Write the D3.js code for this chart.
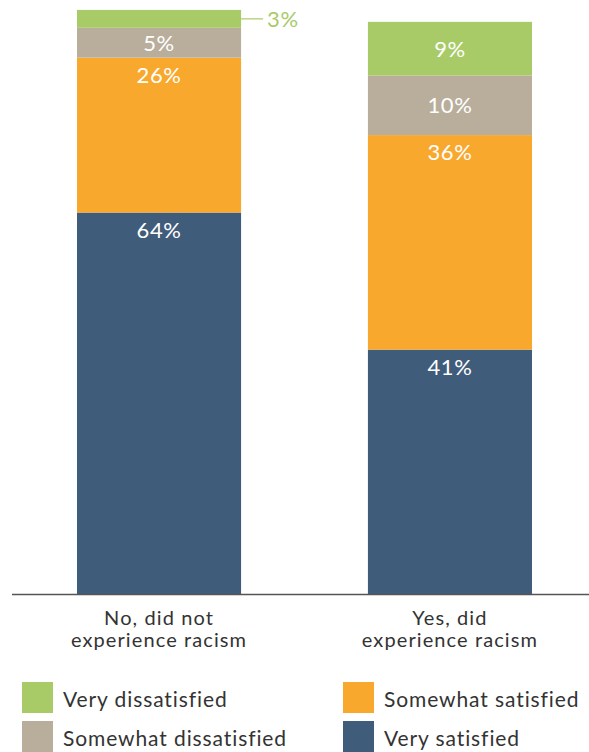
<!DOCTYPE html>
<html>
<head>
<meta charset="utf-8">
<script src="https://cdn.jsdelivr.net/npm/d3@7"></script>
<style>
  html, body { margin: 0; padding: 0; background: #fff; }
  svg { display: block; font-family: Lato, "Open Sans", sans-serif; }
</style>
</head>
<body>
<svg id="chart" width="589" height="752"></svg>
<script>
// Satisfaction by experience of racism (stacked percentages, bottom to top)
const categories = ["No, did not experience racism", "Yes, did experience racism"];
const categoryLines = [["No, did not", "experience racism"], ["Yes, did", "experience racism"]];
const seriesNames = ["Very satisfied", "Somewhat satisfied", "Somewhat dissatisfied", "Very dissatisfied"];
const verySatisfied = [64, 41];
const somewhatSatisfied = [26, 36];
const somewhatDissatisfied = [5, 10];
const veryDissatisfied = [3, 9];
const seriesColors = ["#3f5c7a", "#f9a82e", "#b9ae9c", "#a8cb67"];

const rows = categories.map((c, i) => ({
  category: c,
  "Very satisfied": verySatisfied[i],
  "Somewhat satisfied": somewhatSatisfied[i],
  "Somewhat dissatisfied": somewhatDissatisfied[i],
  "Very dissatisfied": veryDissatisfied[i]
}));

const svg = d3.select("#chart");
const baseline = 594;

const x = d3.scaleBand().domain(categories).range([77, 532]).paddingInner(0.436).paddingOuter(0);
const y = d3.scaleLinear().domain([0, 100]).range([baseline, baseline - 596]);
const color = d3.scaleOrdinal().domain(seriesNames).range(seriesColors);

const stacked = d3.stack().keys(seriesNames)(rows);

const layers = svg.append("g").selectAll("g.layer")
  .data(stacked).join("g")
  .attr("class", "layer")
  .attr("fill", d => color(d.key));

layers.selectAll("rect")
  .data(d => d.map(p => ({ key: d.key, p })))
  .join("rect")
  .attr("x", d => x(d.p.data.category))
  .attr("width", x.bandwidth())
  .attr("y", d => y(d.p[1]))
  .attr("height", d => y(d.p[0]) - y(d.p[1]));

// value labels
const labelData = [];
stacked.forEach(layer => {
  layer.forEach(p => {
    labelData.push({ key: layer.key, p, v: p[1] - p[0] });
  });
});

const segH = d => y(d.p[0]) - y(d.p[1]);
const inside = labelData.filter(d => segH(d) >= 25);
const outside = labelData.filter(d => segH(d) < 25);

svg.append("g").selectAll("text")
  .data(inside).join("text")
  .attr("x", d => x(d.p.data.category) + x.bandwidth() / 2)
  .attr("y", d => {
    const top = y(d.p[1]), h = segH(d);
    const cy = h < 70 ? top + h / 2 : top + 17;
    return cy + 8;
  })
  .attr("text-anchor", "middle")
  .attr("fill", "#fff")
  .attr("font-size", 22)
  .attr("letter-spacing", 0.6)
  .text(d => d.v + "%");

// small segments get a leader line and an outside label
const out = svg.append("g").selectAll("g")
  .data(outside).join("g");
out.append("line")
  .attr("x1", d => x(d.p.data.category) + x.bandwidth())
  .attr("x2", d => x(d.p.data.category) + x.bandwidth() + 22)
  .attr("y1", d => (y(d.p[0]) + y(d.p[1])) / 2)
  .attr("y2", d => (y(d.p[0]) + y(d.p[1])) / 2)
  .attr("stroke", d => color(d.key))
  .attr("stroke-width", 1.2);
out.append("text")
  .attr("x", d => x(d.p.data.category) + x.bandwidth() + 26)
  .attr("y", d => (y(d.p[0]) + y(d.p[1])) / 2 + 8)
  .attr("fill", d => color(d.key))
  .attr("font-size", 22)
  .attr("letter-spacing", 0.6)
  .text(d => d.v + "%");

// baseline axis
svg.append("line")
  .attr("x1", 12).attr("x2", 589)
  .attr("y1", baseline + 0.5).attr("y2", baseline + 0.5)
  .attr("stroke", "#555").attr("stroke-width", 1.5);

// category labels, two lines each
const catG = svg.append("g").selectAll("text")
  .data(categories).join("text")
  .attr("text-anchor", "middle")
  .attr("fill", "#333")
  .attr("font-size", 20)
  .attr("letter-spacing", 1.1);
catG.selectAll("tspan")
  .data((d, i) => categoryLines[i].map(t => ({ t, c: d })))
  .join("tspan")
  .attr("x", d => x(d.c) + x.bandwidth() / 2)
  .attr("y", (d, j) => 625 + j * 22)
  .text(d => d.t);

// legend
const legendOrder = ["Very dissatisfied", "Somewhat dissatisfied", "Somewhat satisfied", "Very satisfied"];
const legend = svg.append("g").selectAll("g")
  .data(legendOrder).join("g")
  .attr("transform", (d, i) => `translate(${i < 2 ? 22 : 343},${i % 2 === 0 ? 682 : 721})`);
legend.append("rect")
  .attr("width", 31).attr("height", 31)
  .attr("fill", d => color(d));
legend.append("text")
  .attr("x", 41).attr("y", 25)
  .attr("fill", "#333")
  .attr("font-size", 21)
  .attr("letter-spacing", 0.9)
  .text(d => d);
</script>
</body>
</html>
